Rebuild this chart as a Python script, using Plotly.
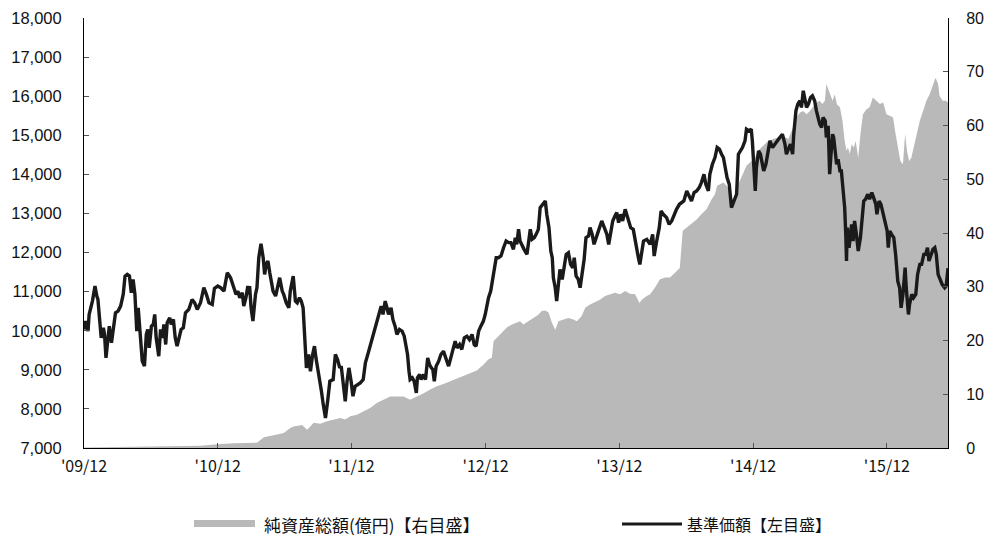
import pandas as pd
import plotly.graph_objects as go

# ---- data: base price (基準価額, yen) ----
start = pd.Timestamp("2009-12-01")
nav_day = [0, 5, 11, 14, 23, 30, 35, 38, 43, 47, 53, 56, 60, 64, 69, 75, 82, 86, 93, 100,
           107, 112, 118, 124, 129, 134, 139, 144, 148, 154, 159, 165, 170, 174, 178, 184, 189, 193, 197, 204,
           209, 214, 218, 223, 227, 234, 238, 244, 249, 254, 261, 265, 271, 277, 286, 295, 302, 309, 318, 327,
           334, 341, 350, 356, 365, 373, 382, 391, 400, 409, 415, 420, 425, 432, 436, 442, 447, 450, 452, 456,
           461, 468, 472, 477, 483, 489, 493, 497, 502, 507, 512, 516, 523, 529, 534, 541, 545, 552, 559, 563,
           571, 577, 582, 588, 593, 598, 602, 607, 613, 618, 624, 629, 633, 638, 643, 648, 653, 659, 665, 671,
           680, 686, 692, 698, 702, 707, 713, 718, 723, 729, 734, 740, 747, 754, 762, 768, 777, 783, 791, 798,
           804, 811, 816, 822, 827, 831, 838, 843, 849, 854, 861, 868, 874, 880, 883, 887, 890, 896, 901, 907,
           910, 916, 920, 927, 932, 938, 943, 948, 952, 956, 961, 968, 974, 981, 989, 995, 1001, 1009, 1013, 1018,
           1025, 1031, 1038, 1045, 1052, 1059, 1065, 1070, 1077, 1083, 1090, 1095, 1100, 1104, 1110, 1116, 1119, 1125, 1131, 1138,
           1145, 1152, 1159, 1165, 1172, 1177, 1181, 1186, 1190, 1196, 1201, 1209, 1213, 1218, 1223, 1229, 1234, 1240, 1245, 1252,
           1259, 1263, 1269, 1274, 1278, 1281, 1286, 1290, 1295, 1299, 1305, 1310, 1316, 1322, 1328, 1334, 1338, 1343, 1349, 1354,
           1358, 1365, 1370, 1377, 1381, 1387, 1392, 1399, 1407, 1413, 1419, 1427, 1432, 1437, 1443, 1449, 1454, 1459, 1465, 1470,
           1477, 1481, 1487, 1492, 1499, 1507, 1513, 1517, 1527, 1536, 1545, 1552, 1556, 1563, 1570, 1575, 1581, 1590, 1597, 1604,
           1611, 1617, 1625, 1631, 1637, 1645, 1652, 1658, 1665, 1672, 1679, 1685, 1692, 1697, 1704, 1708, 1715, 1722, 1728, 1734,
           1740, 1745, 1750, 1755, 1761, 1767, 1774, 1781, 1786, 1792, 1797, 1804, 1808, 1815, 1821, 1824, 1828, 1832, 1835, 1841,
           1846, 1852, 1855, 1861, 1866, 1872, 1879, 1885, 1892, 1899, 1906, 1913, 1917, 1923, 1928, 1934, 1937, 1943, 1948, 1954,
           1958, 1963, 1968, 1972, 1977, 1983, 1988, 1994, 1999, 2004, 2008, 2013, 2017, 2023, 2026, 2031, 2035, 2040, 2043, 2046,
           2050, 2054, 2058, 2063, 2067, 2072, 2076, 2079, 2081, 2083, 2088, 2092, 2095, 2099, 2103, 2108, 2113, 2119, 2123, 2128,
           2133, 2139, 2144, 2150, 2155, 2161, 2164, 2170, 2175, 2181, 2186, 2192, 2195, 2199, 2204, 2210, 2215, 2221, 2226, 2230,
           2235, 2241, 2244, 2250, 2253, 2259, 2264, 2270, 2275, 2281, 2286, 2292, 2297, 2302, 2306, 2312, 2317, 2322, 2326, 2331,
           2335, 2342, 2349, 2353, 2358]
nav_value = [10032, 10246, 9989, 10416, 10758, 11142, 10886, 10801, 10246, 9819, 10075, 9904, 9306, 9733, 10118, 9691, 10160, 10459, 10502, 10630,
             10929, 11399, 11441, 11399, 10971, 11313, 10929, 9989, 10587, 9776, 9221, 9093, 9904, 10032, 9562, 10118, 10160, 10416, 9819, 9349,
             10032, 9819, 10160, 9648, 10203, 10331, 10160, 10288, 9819, 9605, 9904, 10032, 10075, 10459, 10545, 10801, 10715, 10545, 10715, 11100,
             10929, 10715, 10673, 11083, 11142, 11100, 11014, 11484, 11356, 11057, 10929, 11014, 10843, 10971, 10630, 10843, 11142, 10929, 11142, 10587,
             10246, 10929, 11100, 11868, 12227, 11868, 11441, 11697, 11783, 11484, 11185, 11014, 10886, 11100, 11356, 11014, 10929, 10715, 10587, 11014,
             11399, 10758, 10715, 10843, 10758, 10587, 9904, 9050, 9392, 8965, 9392, 9605, 9306, 9050, 8794, 8450, 8110, 7769, 8200, 8709,
             8751, 9392, 9264, 9050, 9093, 8709, 8196, 8709, 9050, 8709, 8324, 8580, 8623, 8666, 8751, 9178, 9477, 9691, 9989, 10203,
             10459, 10630, 10416, 10758, 10587, 10416, 10587, 10288, 10118, 9904, 10032, 9989, 9861, 9520, 9392, 8965, 8751, 8794, 8709, 8410,
             8794, 8879, 8751, 8879, 8751, 9306, 9136, 9050, 9007, 8709, 9093, 9221, 9392, 9477, 9264, 9093, 9306, 9562, 9733, 9562,
             9648, 9520, 9819, 9861, 9776, 9904, 9648, 9605, 9989, 10118, 10246, 10416, 10673, 10843, 11014, 11356, 11612, 11868, 11868, 11911,
             12124, 12295, 12253, 12253, 12082, 12381, 12210, 12594, 12295, 12167, 12082, 11954, 12210, 12594, 12338, 12381, 12466, 12594, 13149, 13235,
             13320, 12978, 12637, 12039, 11868, 11356, 11100, 10758, 11270, 11569, 11313, 11612, 11954, 11996, 11697, 11612, 11868, 11399, 11313, 11100,
             11356, 11826, 12381, 12423, 12637, 12466, 12210, 12381, 12637, 12808, 12637, 12466, 12210, 12552, 12808, 12936, 13021, 12765, 12978, 12808,
             13107, 12978, 12808, 12637, 12594, 12124, 11868, 11697, 12295, 12338, 12210, 12466, 11911, 12295, 12637, 13064, 12978, 12893, 12722, 12808,
             12978, 13107, 13235, 13277, 13320, 13576, 13448, 13320, 13533, 13576, 13662, 13790, 14003, 13747, 13576, 14003, 14259, 14430, 14686, 14644,
             14516, 14430, 14174, 13918, 13747, 13149, 13320, 13491, 14516, 14601, 14686, 14857, 15156, 15114, 15156, 14857, 14345, 13576, 14174, 14601,
             14516, 14174, 14089, 14259, 14516, 14857, 14686, 14772, 14857, 14943, 15028, 14772, 14516, 14686, 14772, 14516, 15028, 15626, 15797, 15882,
             15711, 16138, 15882, 15711, 15797, 15967, 16010, 15882, 15626, 15370, 15284, 15199, 15455, 15370, 14943, 15242, 14003, 14686, 15028, 14943,
             14601, 14259, 14388, 14089, 14089, 13662, 13149, 12466, 11783, 12637, 12124, 12466, 12722, 12295, 12808, 12466, 12039, 12381, 12893, 13320,
             13363, 13491, 13363, 13533, 13405, 13235, 12978, 13320, 13235, 12978, 12808, 12552, 12124, 12552, 12466, 12381, 11954, 11270, 11100, 10587,
             10929, 11612, 11100, 10416, 10673, 10929, 10843, 10929, 11441, 11697, 11697, 11954, 11954, 12124, 11783, 11954, 12082, 12124, 11954, 11441,
             11356, 11185, 11100, 11142, 11600]

# ---- data: net assets (純資産総額, 億円) ----
aum_day = [0, 173, 245, 318, 365, 409, 472, 482, 491, 527, 545, 563, 572, 595, 600, 609, 627, 645, 663, 682,
           700, 713, 727, 745, 763, 782, 800, 818, 836, 854, 872, 890, 909, 927, 945, 963, 981, 1000, 1018, 1036,
           1054, 1072, 1090, 1104, 1113, 1118, 1127, 1140, 1154, 1168, 1181, 1190, 1199, 1213, 1227, 1240, 1249, 1259, 1268, 1277,
           1286, 1295, 1309, 1322, 1336, 1345, 1358, 1368, 1381, 1395, 1408, 1422, 1436, 1449, 1463, 1477, 1490, 1504, 1516, 1522,
           1536, 1545, 1558, 1572, 1586, 1599, 1613, 1626, 1634, 1645, 1658, 1672, 1685, 1699, 1713, 1722, 1728, 1735, 1745, 1754,
           1763, 1772, 1781, 1790, 1799, 1808, 1822, 1831, 1840, 1849, 1858, 1867, 1881, 1895, 1908, 1922, 1935, 1944, 1954, 1963,
           1972, 1981, 1990, 1999, 2008, 2015, 2022, 2026, 2031, 2037, 2043, 2049, 2055, 2063, 2070, 2076, 2081, 2085, 2090, 2095,
           2101, 2106, 2113, 2119, 2126, 2135, 2144, 2153, 2163, 2172, 2181, 2190, 2199, 2208, 2215, 2222, 2228, 2235, 2241, 2246,
           2252, 2258, 2264, 2272, 2281, 2290, 2299, 2308, 2317, 2324, 2331, 2335, 2344, 2353, 2358]
aum_value = [0.1, 0.2, 0.3, 0.4, 0.7, 0.9, 1.0, 1.5, 2.0, 2.5, 2.8, 3.7, 4.0, 4.3, 4.0, 3.4, 4.7, 4.5, 5.0, 5.3,
             5.6, 5.3, 5.9, 6.2, 6.8, 7.5, 8.4, 9.0, 9.6, 9.6, 9.6, 9.0, 9.6, 10.2, 10.9, 11.5, 11.9, 12.4, 13.0, 13.4,
             13.8, 14.4, 15.5, 16.5, 16.8, 19.9, 20.5, 21.4, 22.4, 23.0, 23.3, 23.6, 23.0, 23.6, 24.2, 24.8, 25.5, 25.6, 25.2, 23.3,
             22.0, 23.6, 23.9, 24.2, 23.9, 23.6, 24.5, 26.1, 26.7, 27.1, 27.6, 28.3, 28.6, 28.9, 28.6, 29.2, 28.7, 28.6, 27.0, 27.6,
             28.3, 28.6, 29.8, 31.4, 31.7, 31.7, 32.6, 33.5, 40.4, 41.0, 41.6, 42.5, 43.5, 44.4, 46.3, 47.2, 48.8, 49.1, 49.4, 48.8,
             47.8, 46.0, 48.4, 49.7, 51.0, 52.5, 53.4, 54.0, 55.3, 55.9, 56.5, 57.1, 57.5, 57.8, 58.1, 57.5, 59.6, 61.5, 62.4, 62.7,
             62.1, 62.7, 63.4, 64.3, 64.6, 64.0, 64.6, 67.7, 66.8, 65.8, 64.6, 65.8, 63.9, 63.4, 60.9, 57.1, 55.3, 55.9, 54.7, 56.5,
             55.9, 57.1, 54.0, 58.4, 62.1, 63.0, 63.4, 65.2, 64.6, 64.0, 64.3, 62.1, 61.8, 61.5, 58.4, 55.9, 53.4, 52.8, 58.4, 55.3,
             53.4, 54.0, 55.9, 58.4, 60.9, 62.7, 64.6, 65.8, 67.7, 68.9, 67.7, 65.5, 64.6, 64.6, 64.3]

tick_dates = ["2009-12-01", "2010-12-01", "2011-12-01", "2012-12-01", "2013-12-01", "2014-12-01", "2015-12-01"]
tick_labels = ["'09/12", "'10/12", "'11/12", "'12/12", "'13/12", "'14/12", "'15/12"]
left_ticks = list(range(7000, 18001, 1000))
right_ticks = list(range(0, 81, 10))

legend_area = "純資産総額(億円)【右目盛】"
legend_line = "基準価額【左目盛】"

nav_dates = start + pd.to_timedelta(nav_day, unit="D")
aum_dates = start + pd.to_timedelta(aum_day, unit="D")
x_end = start + pd.Timedelta(days=2358)

W, H = 984, 536
L, R, T, B = 84, 36, 18, 88
pw, ph = W - L - R, H - T - B


def px(x):
    return (x - L) / pw


def py(y):
    return (H - B - y) / ph


AREA = "#b9b9b9"
LINE = "#1a1a1a"
NUMFONT = dict(family="Liberation Sans, Arial, sans-serif", size=16.5, color="#111111")
RIGHTFONT = dict(family="Liberation Sans, Arial, sans-serif", size=16, color="#111111")
JPFONT = "Noto Sans CJK JP, sans-serif"

fig = go.Figure()
fig.add_trace(go.Scatter(x=aum_dates, y=aum_value, mode="lines", fill="tozeroy",
                         line=dict(width=0, color=AREA), fillcolor=AREA,
                         yaxis="y", showlegend=False, hoverinfo="skip"))
fig.add_trace(go.Scatter(x=nav_dates, y=nav_value, mode="lines",
                         line=dict(width=3.4, color=LINE),
                         yaxis="y2", showlegend=False))

fig.update_layout(
    width=W, height=H,
    margin=dict(l=L, r=R, t=T, b=B, autoexpand=False),
    paper_bgcolor="white", plot_bgcolor="white",
    xaxis=dict(type="date", range=[start, x_end], tickvals=tick_dates, ticktext=tick_labels,
               ticks="inside", ticklen=5, tickcolor="#555555", showgrid=False, zeroline=False,
               showline=True, linecolor="black", linewidth=1, automargin=False,
               tickfont=dict(family=JPFONT, size=16, color="#111111"), ticklabelstandoff=4),
    yaxis=dict(side="right", range=[0, 80], tickvals=right_ticks, ticks="inside", ticklen=5,
               tickcolor="#555555", showgrid=False, zeroline=False, showline=True, automargin=False,
               linecolor="black", linewidth=1, tickfont=RIGHTFONT, ticklabelstandoff=14),
    yaxis2=dict(side="left", overlaying="y", range=[7000, 18000], tickvals=left_ticks,
                tickformat=",", ticks="inside", ticklen=5, tickcolor="#555555", showgrid=False,
                zeroline=False, showline=True, linecolor="black", linewidth=1, automargin=False,
                tickfont=NUMFONT, ticklabelstandoff=18),
)

# legend drawn manually
fig.add_shape(type="rect", xref="paper", yref="paper", x0=px(194), x1=px(255), y0=py(527), y1=py(520),
              fillcolor=AREA, line=dict(width=0))
fig.add_annotation(xref="paper", yref="paper", x=px(262), y=py(524), text=legend_area, showarrow=False,
                   xanchor="left", yanchor="middle", font=dict(family=JPFONT, size=17, color="#111111"))
fig.add_shape(type="line", xref="paper", yref="paper", x0=px(622), x1=px(682), y0=py(524), y1=py(524),
              line=dict(color=LINE, width=3))
fig.add_annotation(xref="paper", yref="paper", x=px(685), y=py(524), text=legend_line, showarrow=False,
                   xanchor="left", yanchor="middle", font=dict(family=JPFONT, size=16, color="#111111"))

# remove the default page margin so the figure sits at the window's top-left corner
fig.write_html("out.html", config={"displayModeBar": False},
               post_script="document.body.style.margin='0';document.body.style.overflow='hidden';")
